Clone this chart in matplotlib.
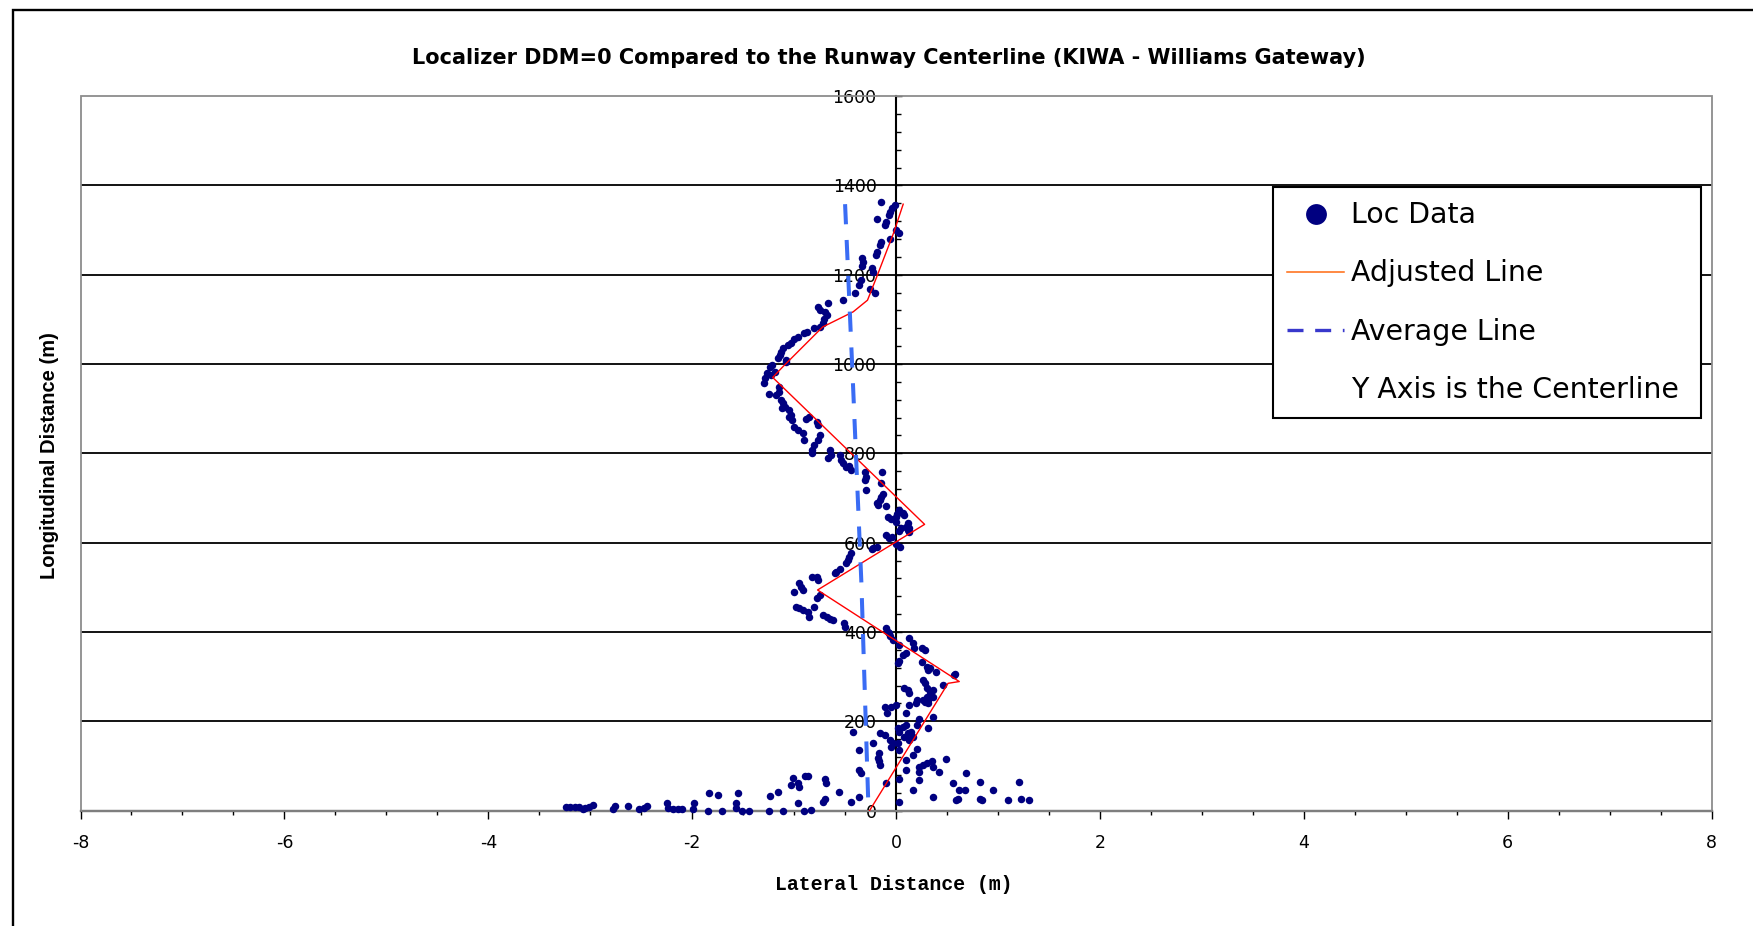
import matplotlib
matplotlib.use("Agg")
import matplotlib.pyplot as plt
from matplotlib.lines import Line2D
from matplotlib.patches import Rectangle
from matplotlib.ticker import MultipleLocator

plt.rcParams['axes.unicode_minus'] = False

# Localizer DDM=0 crossings: lateral offset from centerline (m), distance along runway (m)
loc_x = [
    -0.15, -0.01, -0.04, -0.06, -0.07, -0.19, -0.10, -0.11, 0.00, 0.03,
    -0.06, -0.15, -0.16, -0.19, -0.20, -0.33, -0.32, -0.33, -0.24, -0.23,
    -0.34, -0.36, -0.40, -0.26, -0.21, -0.52, -0.67, -0.77, -0.75, -0.70,
    -0.68, -0.71, -0.72, -0.75, -0.80, -0.87, -0.90, -0.96, -1.00, -1.03,
    -1.06, -1.11, -1.13, -1.14, -1.16, -1.08, -1.08, -1.22, -1.24, -1.27,
    -1.29, -1.30, -1.15, -1.19, -1.23,
    -1.25, -1.18, -1.15, -1.13, -1.11, -1.12, -1.09, -1.05, -1.03, -1.02,
    -1.05, -1.00, -0.96, -0.91, -0.90, -0.88, -0.85, -0.78, -0.77, -0.75,
    -0.77, -0.80, -0.82, -0.82, -0.65, -0.67, -0.64, -0.55, -0.54, -0.52,
    -0.49, -0.46, -0.44, -0.30, -0.29, -0.14,
    -0.30, -0.29, -0.15, -0.15, -0.13, -0.16, -0.19, -0.18, -0.10, -0.08,
    -0.05, 0.03, 0.01, 0.00, 0.00, 0.12, 0.13, 0.10, 0.05, 0.03,
    -0.10, -0.07, -0.04, 0.00, 0.04, -0.19, -0.23, -0.24, -0.44, -0.46,
    -0.47, -0.49, -0.55, -0.59, -0.60, -0.78, -0.77, -0.82, -0.95, -0.93,
    -0.91, -1.00, -0.75, -0.78, 0.07, 0.08, 0.12, 0.13,
    -0.80, -0.98, -0.95, -0.91, -0.86, -0.85, -0.72, -0.68, -0.65, -0.62,
    -0.51, -0.50, -0.10, -0.08, -0.07, -0.06, -0.03, 0.13, 0.17, 0.18,
    0.25, 0.28, 0.10, 0.07, 0.03, 0.03, 0.02, 0.25, 0.30, 0.33,
    0.31, 0.39, 0.57, 0.58, 0.26, 0.28, 0.30, 0.33, 0.36, 0.30,
    0.26, 0.31, 0.36, 0.08, 0.12, 0.13, 0.46, 0.21,
    -0.11, -0.09, -0.05, 0.00, 0.10, 0.13, 0.20, 0.23, 0.21, 0.15,
    0.17, 0.13, 0.28, 0.31, 0.36, 0.31, 0.02, 0.03, 0.07, 0.10,
    0.12, 0.08, -0.06, -0.03, -0.05, 0.02, 0.03, -0.42, -0.16, -0.11,
    -0.23, -0.17, -0.18, -0.17, -0.16, -0.36, -0.36, -0.34, 0.21, 0.17,
    0.10, 0.10, 0.03, 0.03, 0.17, 0.23, 0.23, 0.23, 0.26, 0.30,
    0.35, 0.36, 0.42, 0.49, 0.36, 0.56, 0.62, 0.61, 0.59, 0.68,
    0.69, 0.82, 0.82, 0.84, 0.95, 1.10, 1.21, 1.23, 1.30, -0.10,
    -0.70, -0.69, -0.70, -0.72, -0.56, -0.44, -0.36, -0.83,
    -3.24, -3.20, -3.15, -3.11, -3.07, -3.05, -3.01, -2.97, -2.78, -2.76,
    -2.63, -2.52, -2.47, -2.44, -2.25, -2.24, -2.19, -2.14, -2.10, -1.98,
    -1.99, -1.83, -1.75, -1.84, -1.71, -1.55, -1.57, -1.57, -1.51, -1.44,
    -1.24, -1.16, -1.25, -1.11, -1.01, -1.03, -0.96, -0.95, -0.89, -0.86,
    -0.96, -0.90,
]
loc_y = [
    1362, 1356, 1349, 1341, 1334, 1324, 1319, 1311, 1300, 1293,
    1281, 1274, 1266, 1251, 1244, 1237, 1229, 1219, 1214, 1207,
    1188, 1177, 1158, 1169, 1158, 1143, 1137, 1128, 1121, 1117,
    1110, 1100, 1091, 1084, 1080, 1072, 1069, 1061, 1055, 1046,
    1043, 1035, 1028, 1020, 1013, 1009, 1004, 998, 994, 979,
    968, 958, 949, 983, 976,
    934, 931, 938, 919, 912, 901, 904, 897, 886, 875,
    882, 860, 852, 845, 830, 878, 882, 871, 863, 841,
    830, 819, 807, 800, 807, 789, 796, 796, 785, 778,
    770, 772, 763, 759, 748, 759,
    740, 718, 733, 703, 710, 695, 688, 684, 681, 658,
    654, 673, 665, 658, 647, 643, 632, 636, 632, 625,
    617, 610, 613, 598, 591, 591, 587, 585, 576, 569,
    561, 554, 542, 535, 531, 524, 516, 524, 509, 501,
    494, 490, 483, 475, 666, 661, 628, 624,
    457, 457, 453, 449, 445, 434, 438, 434, 428, 427,
    419, 412, 408, 401, 397, 390, 382, 386, 375, 363,
    363, 360, 352, 348, 371, 334, 330, 333, 322, 319,
    315, 311, 304, 306, 292, 285, 274, 266, 255, 255,
    248, 248, 270, 274, 270, 263, 281, 248,
    233, 218, 233, 236, 218, 236, 240, 206, 192, 177,
    165, 158, 244, 240, 210, 184, 184, 177, 188, 192,
    173, 165, 158, 151, 143, 151, 136, 177, 173, 169,
    151, 128, 117, 110, 102, 136, 91, 85, 139, 124,
    113, 91, 70, 20, 46, 68, 87, 98, 102, 106,
    110, 98, 87, 115, 31, 61, 46, 27, 24, 46,
    85, 65, 27, 24, 46, 24, 65, 27, 24, 61,
    70, 61, 27, 20, 42, 20, 31, 1,
    7, 7, 7, 7, 4, 5, 7, 12, 4, 10,
    11, 4, 5, 10, 16, 5, 4, 4, 4, 16,
    4, 39, 35, 0, 0, 39, 16, 5, 0, 0,
    33, 42, 0, 0, 72, 57, 61, 53, 77, 77,
    16, 0,
]

# Piecewise adjusted centerline
adj_x = [-0.26, 0.51, 0.62, -0.77, 0.28, -1.21, -1.11, -0.72, -0.42, -0.28, -0.19, -0.02, 0.07]
adj_y = [0, 285, 289, 494, 641, 970, 994, 1083, 1117, 1143, 1195, 1296, 1358]

# Average line (top to bottom)
avg_x = [-0.50, -0.42, -0.34, -0.27]
avg_y = [1358, 942, 510, 0]

x_ticks = [-8, -6, -4, -2, 0, 2, 4, 6, 8]
y_ticks = [0, 200, 400, 600, 800, 1000, 1200, 1400, 1600]

legend_labels = ["Loc Data", "Adjusted Line", "Average Line", "Y Axis is the Centerline"]

title = "Localizer DDM=0 Compared to the Runway Centerline (KIWA - Williams Gateway)"

W, H = 1753, 926
fig = plt.figure(figsize=(W / 100, H / 100), dpi=100)
fig.patch.set_facecolor("white")

# outer chart border
fig.add_artist(Rectangle((13 / W, -0.05), 1.2, 1 - 9.5 / H + 0.05, transform=fig.transFigure,
                         fill=False, edgecolor="black", linewidth=1.7, clip_on=False))

ax = fig.add_axes([80.5 / W, 1 - 810.6 / H, (1711.6 - 80.5) / W, (810.6 - 96.1) / H])
ax.set_xlim(x_ticks[0], x_ticks[-1])
ax.set_ylim(y_ticks[0], y_ticks[-1])
ax.set_axisbelow(True)

# horizontal gridlines between the frame edges
ax.hlines(y_ticks[1:-1], x_ticks[0], x_ticks[-1], colors="black", linewidth=1.3, zorder=1)

# plot-area frame
ax.add_patch(Rectangle((0, 0), 1, 1, transform=ax.transAxes, fill=False,
                       edgecolor="#8c8c8c", linewidth=1.3, zorder=2.6, clip_on=False))

for side in ("top", "right"):
    ax.spines[side].set_visible(False)
ax.spines["left"].set_position(("data", 0))
ax.spines["left"].set_color("black")
ax.spines["left"].set_linewidth(1.5)
ax.spines["bottom"].set_color("black")
ax.spines["bottom"].set_linewidth(1.6)

ax.set_xticks(x_ticks)
ax.set_yticks(y_ticks)
ax.xaxis.set_minor_locator(MultipleLocator(0.5))
ax.yaxis.set_minor_locator(MultipleLocator(40))
ax.tick_params(axis="x", which="major", direction="out", length=6, width=1.0,
               labelsize=12.5, pad=10.5, colors="black")
ax.tick_params(axis="x", which="minor", direction="out", length=3, width=1.0)
ax.tick_params(axis="y", which="major", direction="in", length=4, width=1.0,
               labelsize=12.5, pad=14, colors="black")
ax.tick_params(axis="y", which="minor", direction="in", length=3.5, width=1.0)
for lbl in ax.get_xticklabels() + ax.get_yticklabels():
    lbl.set_fontfamily("DejaVu Sans")

# series
ax.plot(loc_x, loc_y, linestyle="none", marker="o", markersize=5.4, color="#000080",
        markeredgewidth=0, zorder=3, clip_on=False)
ax.plot(adj_x, adj_y, color="#ff0000", linewidth=1.0, zorder=4)
ax.plot(avg_x, avg_y, color="#3a6cf4", linewidth=2.9, dashes=(5.0, 3.9), zorder=5)

# legend
handles = [
    Line2D([], [], linestyle="none", marker="o", markersize=15, color="#000080", markeredgewidth=0),
    Line2D([], [], color="#ff6a10", linewidth=1.1),
    Line2D([], [], color="#3838cc", linewidth=2.4, dashes=(4.8, 3.5)),
    Line2D([], [], linestyle="none"),
]
lx0, ly0 = 1273.3 / W, 1 - 417.3 / H
lw_, lh_ = (1700.7 - 1273.3) / W, (417.3 - 187.3) / H
leg = ax.legend(handles, legend_labels, loc="upper left",
                bbox_to_anchor=(lx0, ly0, lw_, lh_), bbox_transform=fig.transFigure,
                mode="expand", borderaxespad=0, frameon=True,
                fancybox=False, shadow=False, framealpha=1, edgecolor="black",
                borderpad=0.5, labelspacing=1.06, handlelength=1.98,
                handletextpad=0.25, numpoints=1,
                prop={"family": "DejaVu Sans", "size": 20.4})
leg.get_frame().set_linewidth(1.5)
leg.set_zorder(10)

# titles
fig.text(889 / W, 1 - 58 / H, title, ha="center", va="center", fontsize=15,
         fontweight="bold", family="DejaVu Sans")
fig.text(50 / W, 1 - 456 / H, "Longitudinal Distance (m)", ha="center", va="center",
         rotation=90, fontsize=14.5, fontweight="bold", family="Liberation Sans")
fig.text(893.5 / W, 1 - 884 / H, "Lateral Distance (m)", ha="center", va="center",
         fontsize=14.3, fontweight="bold", family="Liberation Mono")

fig.savefig("out.png", dpi=100)
